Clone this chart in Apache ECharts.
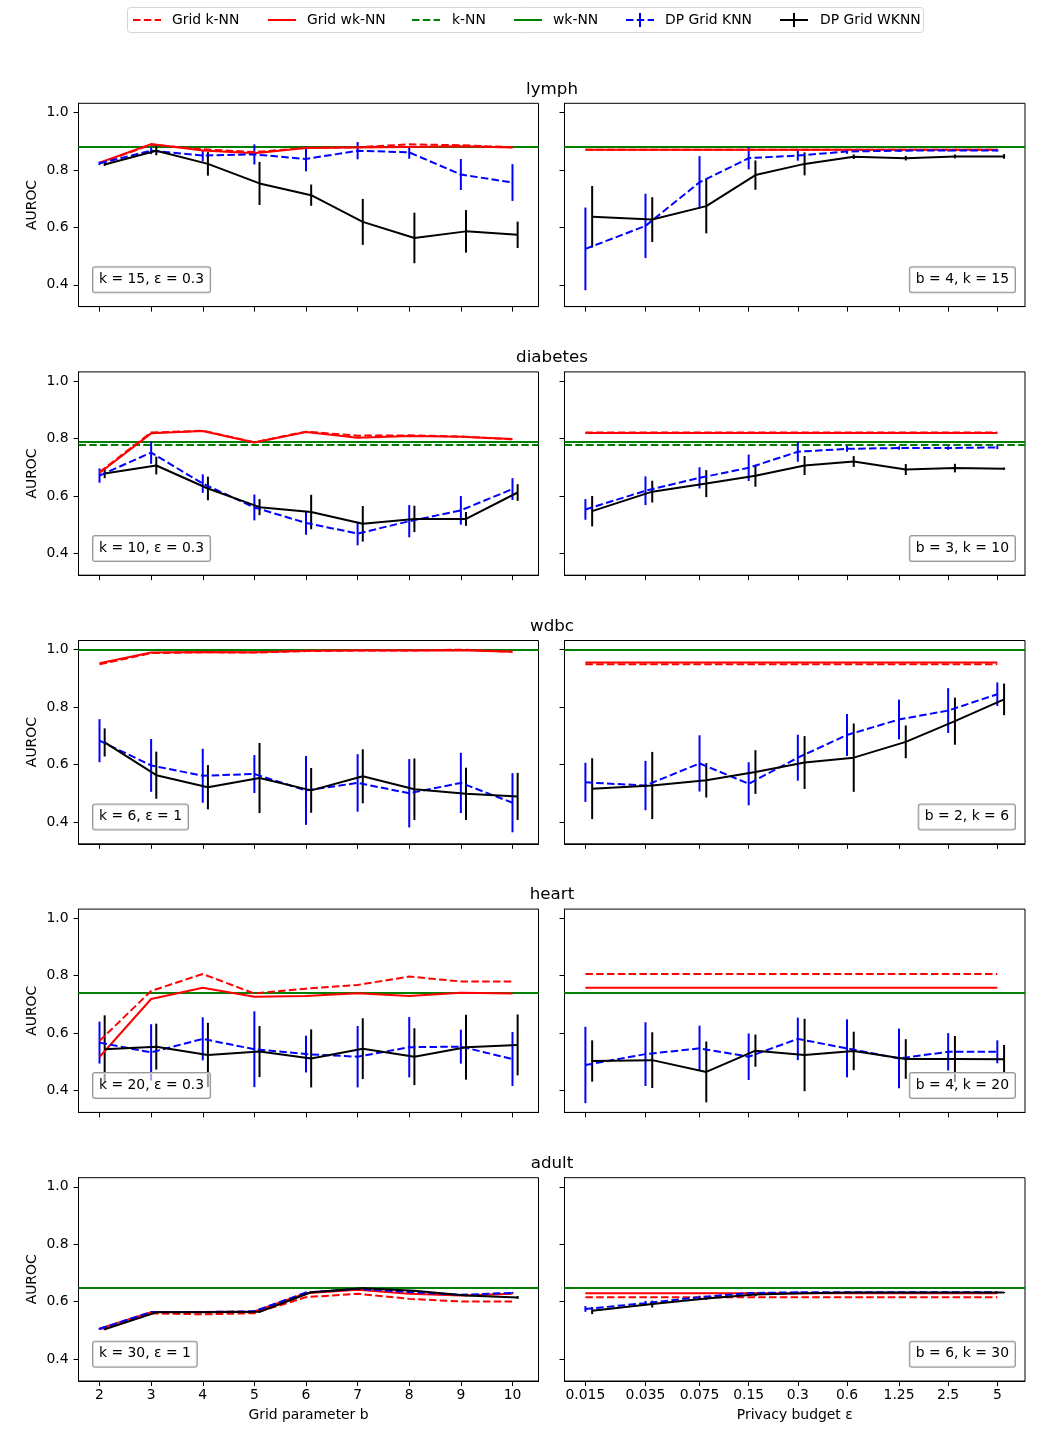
<!DOCTYPE html>
<html>
<head>
<meta charset="utf-8">
<script src="https://cdn.jsdelivr.net/npm/echarts@6/dist/echarts.min.js"></script>
<style>
html, body { margin: 0; padding: 0; background: #fff; }
#chart { width: 1050px; height: 1449px; }
</style>
</head>
<body>
<div id="chart"></div>
<script>
var chart = echarts.init(document.getElementById('chart'));

const datasets = ['lymph', 'diabetes', 'wdbc', 'heart', 'adult'];
const gridB = [2, 3, 4, 5, 6, 7, 8, 9, 10];
const budgets = [0.015, 0.035, 0.075, 0.15, 0.3, 0.6, 1.25, 2.5, 5];
const yTicks = [0.4, 0.6, 0.8, 1.0];

// left column: AUROC against grid parameter b (one row per dataset)
const gridKnnVsB = [
    [0.823, 0.888, 0.872, 0.862, 0.877, 0.879, 0.889, 0.886, 0.879],
    [0.683, 0.821, 0.827, 0.787, 0.824, 0.810, 0.811, 0.807, 0.797],
    [0.949, 0.988, 0.991, 0.990, 0.995, 0.997, 0.997, 1.000, 0.993],
    [0.573, 0.747, 0.806, 0.738, 0.755, 0.768, 0.797, 0.780, 0.780],
    [0.504, 0.560, 0.556, 0.560, 0.616, 0.628, 0.610, 0.601, 0.601]
];
const gridWknnVsB = [
    [0.825, 0.890, 0.868, 0.858, 0.876, 0.878, 0.880, 0.882, 0.878],
    [0.680, 0.818, 0.826, 0.786, 0.823, 0.803, 0.809, 0.806, 0.798],
    [0.953, 0.990, 0.992, 0.991, 0.996, 0.997, 0.997, 0.998, 0.993],
    [0.517, 0.719, 0.758, 0.727, 0.729, 0.739, 0.729, 0.741, 0.738],
    [0.506, 0.564, 0.564, 0.566, 0.630, 0.642, 0.628, 0.622, 0.628]
];
const dpKnnVsB = [
    [0.823, 0.867, 0.850, 0.854, 0.838, 0.867, 0.861, 0.784, 0.756],
    [0.671, 0.751, 0.643, 0.560, 0.506, 0.469, 0.512, 0.550, 0.624],
    [0.683, 0.597, 0.561, 0.567, 0.510, 0.536, 0.500, 0.536, 0.467],
    [0.567, 0.533, 0.580, 0.544, 0.527, 0.518, 0.551, 0.553, 0.510],
    [0.506, 0.564, 0.564, 0.567, 0.632, 0.645, 0.634, 0.624, 0.631]
];
const dpKnnErrVsB = [
    [0.006, 0.012, 0.020, 0.035, 0.043, 0.030, 0.022, 0.054, 0.064],
    [0.025, 0.039, 0.032, 0.045, 0.041, 0.041, 0.056, 0.050, 0.038],
    [0.075, 0.092, 0.094, 0.066, 0.120, 0.100, 0.119, 0.105, 0.103],
    [0.073, 0.098, 0.075, 0.132, 0.064, 0.107, 0.105, 0.059, 0.094],
    [0.003, 0.003, 0.003, 0.003, 0.003, 0.003, 0.003, 0.003, 0.003]
];
const dpWknnVsB = [
    [0.819, 0.867, 0.821, 0.753, 0.712, 0.619, 0.563, 0.586, 0.574],
    [0.678, 0.706, 0.626, 0.561, 0.544, 0.503, 0.520, 0.520, 0.612],
    [0.677, 0.563, 0.521, 0.553, 0.510, 0.559, 0.514, 0.498, 0.489],
    [0.544, 0.553, 0.524, 0.536, 0.512, 0.546, 0.518, 0.551, 0.559],
    [0.504, 0.563, 0.563, 0.565, 0.633, 0.647, 0.638, 0.622, 0.615]
];
const dpWknnErrVsB = [
    [0.005, 0.016, 0.041, 0.075, 0.037, 0.080, 0.088, 0.074, 0.046],
    [0.016, 0.031, 0.041, 0.028, 0.060, 0.062, 0.046, 0.024, 0.029],
    [0.049, 0.082, 0.077, 0.122, 0.078, 0.094, 0.107, 0.091, 0.082],
    [0.118, 0.080, 0.112, 0.089, 0.101, 0.106, 0.099, 0.113, 0.106],
    [0.003, 0.003, 0.003, 0.003, 0.003, 0.003, 0.003, 0.003, 0.005]
];

// non-private baselines (horizontal lines in both columns)
const knnBaseline = [0.882, 0.778, 0.996, 0.745, 0.647];
const wknnBaseline = [0.879, 0.792, 0.996, 0.745, 0.647];

// right column: AUROC against privacy budget (fixed b, k)
const gridKnnFixed = [0.870, 0.821, 0.949, 0.806, 0.616];
const gridWknnFixed = [0.870, 0.819, 0.955, 0.758, 0.630];
const dpKnnVsEps = [
    [0.525, 0.605, 0.757, 0.841, 0.850, 0.864, 0.867, 0.868, 0.868],
    [0.553, 0.618, 0.663, 0.698, 0.754, 0.764, 0.767, 0.767, 0.769],
    [0.538, 0.527, 0.604, 0.533, 0.624, 0.703, 0.757, 0.788, 0.845],
    [0.489, 0.527, 0.547, 0.518, 0.580, 0.547, 0.512, 0.535, 0.535],
    [0.575, 0.595, 0.616, 0.630, 0.633, 0.633, 0.633, 0.633, 0.633]
];
const dpKnnErrVsEps = [
    [0.144, 0.112, 0.091, 0.039, 0.018, 0.008, 0.004, 0.004, 0.004],
    [0.036, 0.050, 0.037, 0.046, 0.035, 0.010, 0.006, 0.006, 0.006],
    [0.068, 0.086, 0.098, 0.075, 0.080, 0.073, 0.069, 0.078, 0.041],
    [0.133, 0.111, 0.079, 0.081, 0.074, 0.101, 0.104, 0.065, 0.040],
    [0.010, 0.008, 0.005, 0.004, 0.003, 0.002, 0.002, 0.002, 0.002]
];
const dpWknnVsEps = [
    [0.637, 0.627, 0.674, 0.782, 0.821, 0.846, 0.841, 0.847, 0.847],
    [0.547, 0.615, 0.643, 0.670, 0.706, 0.720, 0.692, 0.697, 0.695],
    [0.516, 0.527, 0.545, 0.574, 0.607, 0.624, 0.679, 0.751, 0.827],
    [0.503, 0.506, 0.465, 0.539, 0.524, 0.538, 0.510, 0.510, 0.509],
    [0.569, 0.592, 0.611, 0.625, 0.630, 0.632, 0.632, 0.632, 0.632]
];
const dpWknnErrVsEps = [
    [0.107, 0.078, 0.095, 0.051, 0.040, 0.008, 0.008, 0.007, 0.008],
    [0.053, 0.038, 0.047, 0.038, 0.033, 0.019, 0.019, 0.015, 0.004],
    [0.106, 0.117, 0.060, 0.076, 0.092, 0.119, 0.057, 0.082, 0.055],
    [0.072, 0.097, 0.106, 0.056, 0.126, 0.067, 0.069, 0.080, 0.050],
    [0.012, 0.012, 0.005, 0.006, 0.003, 0.002, 0.002, 0.002, 0.002]
];

const leftNotes = ['k = 15, ε = 0.3', 'k = 10, ε = 0.3', 'k = 6, ε = 1', 'k = 20, ε = 0.3', 'k = 30, ε = 1'];
const rightNotes = ['b = 4, k = 15', 'b = 3, k = 10', 'b = 2, k = 6', 'b = 4, k = 20', 'b = 6, k = 30'];

const RED = '#ff0000', GREEN = '#008000', BLUE = '#0000ff', BLACK = '#000000';
const DASH = [7.5, 3.3];
const FONT = '"DejaVu Sans", sans-serif';
const TOP0 = 103.3, STEP = 268.6, PH = 203.3;
const LX = 78.5, LW = 460, RX = 564.5, RW = 460.5;
// WKNN errorbars are nudged right so they don't sit on the KNN ones
const SHIFT_B = 0.1, SHIFT_EPS = 1.1;

function lineSeries(name, ax, xs, ys, color, dashed) {
    return {
        name: name, type: 'line', xAxisIndex: ax, yAxisIndex: ax,
        symbol: 'none', silent: true,
        lineStyle: { color: color, width: 2, type: dashed ? DASH : 'solid' },
        data: xs.map(function (x, i) { return [x, ys[i]]; })
    };
}

function errSeries(ax, xs, ys, errs, color) {
    return {
        type: 'custom', xAxisIndex: ax, yAxisIndex: ax, silent: true,
        encode: { x: 0, y: [1, 2] },
        data: xs.map(function (x, i) { return [x, ys[i] - errs[i], ys[i] + errs[i]]; }),
        renderItem: function (params, api) {
            var lo = api.coord([api.value(0), api.value(1)]);
            var hi = api.coord([api.value(0), api.value(2)]);
            return {
                type: 'line',
                shape: { x1: lo[0], y1: lo[1], x2: hi[0], y2: hi[1] },
                style: { stroke: color, lineWidth: 2 }
            };
        }
    };
}

var grids = [], xAxes = [], yAxes = [], series = [], graphics = [];

datasets.forEach(function (ds, r) {
    var top = TOP0 + r * STEP;
    var last = r === datasets.length - 1;
    [0, 1].forEach(function (c) {
        var ax = r * 2 + c;
        grids.push({
            left: c === 0 ? LX : RX, top: top, width: c === 0 ? LW : RW, height: PH,
            show: true, borderColor: '#000', borderWidth: 1, backgroundColor: '#fff',
            outerBoundsMode: 'none', containLabel: false
        });
        var ticks = c === 0 ? gridB : budgets;
        var xa = {
            gridIndex: ax,
            type: c === 0 ? 'value' : 'log',
            min: c === 0 ? 1.593 : 0.01117,
            max: c === 0 ? 10.504 : 7.388,
            axisLine: { show: true, onZero: false, lineStyle: { color: '#000', width: 1 } },
            axisTick: { show: true, length: 5, lineStyle: { color: '#000' }, customValues: ticks },
            axisLabel: {
                show: last, customValues: ticks, margin: 7,
                color: '#000', fontFamily: FONT, fontSize: 13.9,
                formatter: function (v) { return String(+(+v).toPrecision(3)); }
            },
            splitLine: { show: false }
        };
        if (c === 1) xa.logBase = 10;
        if (last) {
            xa.name = c === 0 ? 'Grid parameter b' : 'Privacy budget ε';
            xa.nameLocation = 'middle';
            xa.nameGap = 27;
            xa.nameTextStyle = { color: '#000', fontFamily: FONT, fontSize: 13.9 };
        }
        xAxes.push(xa);
        yAxes.push({
            gridIndex: ax, type: 'value', min: 0.324, max: 1.032,
            name: c === 0 ? 'AUROC' : '',
            nameLocation: 'middle', nameGap: 39,
            nameTextStyle: { color: '#000', fontFamily: FONT, fontSize: 13.9 },
            axisLine: { show: true, lineStyle: { color: '#000', width: 1 } },
            axisTick: { show: true, length: 5, lineStyle: { color: '#000' }, customValues: yTicks },
            axisLabel: {
                show: c === 0, customValues: yTicks, margin: 10,
                color: '#000', fontFamily: FONT, fontSize: 13.9,
                formatter: function (v) { return (+v).toFixed(1); }
            },
            splitLine: { show: false }
        });

        var xs = c === 0 ? gridB : budgets;
        var xsShift = xs.map(function (x) { return c === 0 ? x + SHIFT_B : x * SHIFT_EPS; });
        var gk = c === 0 ? gridKnnVsB[r] : budgets.map(function () { return gridKnnFixed[r]; });
        var gw = c === 0 ? gridWknnVsB[r] : budgets.map(function () { return gridWknnFixed[r]; });
        var dk = c === 0 ? dpKnnVsB[r] : dpKnnVsEps[r];
        var dke = c === 0 ? dpKnnErrVsB[r] : dpKnnErrVsEps[r];
        var dw = c === 0 ? dpWknnVsB[r] : dpWknnVsEps[r];
        var dwe = c === 0 ? dpWknnErrVsB[r] : dpWknnErrVsEps[r];

        series.push(lineSeries('Grid k-NN', ax, xs, gk, RED, true));
        var s = lineSeries('Grid wk-NN', ax, xs, gw, RED, false);
        s.markLine = {
            silent: true, symbol: ['none', 'none'], label: { show: false }, z: 2,
            lineStyle: { color: GREEN, width: 2 },
            emphasis: { disabled: true },
            data: [
                { yAxis: knnBaseline[r], lineStyle: { color: GREEN, width: 2, type: DASH } },
                { yAxis: wknnBaseline[r], lineStyle: { color: GREEN, width: 2, type: 'solid' } }
            ]
        };
        series.push(s);
        series.push(errSeries(ax, xs, dk, dke, BLUE));
        series.push(lineSeries('DP Grid KNN', ax, xs, dk, BLUE, true));
        series.push(errSeries(ax, xsShift, dw, dwe, BLACK));
        series.push(lineSeries('DP Grid WKNN', ax, xsShift, dw, BLACK, false));

        // parameter note box inside each panel
        graphics.push({
            type: 'text', z: 100,
            x: c === 0 ? LX + 14.5 : RX + RW - 10,
            y: top + PH - 14.3,
            style: {
                text: c === 0 ? leftNotes[r] : rightNotes[r],
                font: '13.9px ' + FONT, fill: '#000',
                align: c === 0 ? 'left' : 'right', verticalAlign: 'bottom',
                lineHeight: 16, padding: [4, 6, 5, 6],
                backgroundColor: 'rgba(255,255,255,0.6)',
                borderColor: '#999', borderWidth: 1, borderRadius: 2
            }
        });
    });
    // dataset title centred over the row
    graphics.push({
        type: 'text', z: 100, x: 552, y: top - 14,
        style: { text: ds, font: '16.7px ' + FONT, fill: '#000', align: 'center', verticalAlign: 'middle' }
    });
});

// legend drawn by hand so the handles match the line/errorbar styles
const legendItems = [
    { name: 'Grid k-NN', color: RED, dashed: true, bar: false, hx: 133, tx: 172 },
    { name: 'Grid wk-NN', color: RED, dashed: false, bar: false, hx: 268, tx: 307 },
    { name: 'k-NN', color: GREEN, dashed: true, bar: false, hx: 412, tx: 452 },
    { name: 'wk-NN', color: GREEN, dashed: false, bar: false, hx: 514, tx: 553 },
    { name: 'DP Grid KNN', color: BLUE, dashed: true, bar: true, hx: 626, tx: 665 },
    { name: 'DP Grid WKNN', color: BLACK, dashed: false, bar: true, hx: 780, tx: 820 }
];
graphics.push({
    type: 'rect', z: 100,
    shape: { x: 127.5, y: 7.5, width: 796, height: 25, r: 3 },
    style: { fill: 'rgba(255,255,255,0.8)', stroke: '#d5d5d5', lineWidth: 1 }
});
legendItems.forEach(function (it) {
    graphics.push({
        type: 'line', z: 101,
        shape: { x1: it.hx, y1: 20, x2: it.hx + 28, y2: 20 },
        style: { stroke: it.color, lineWidth: 2, lineDash: it.dashed ? DASH : null }
    });
    if (it.bar) {
        graphics.push({
            type: 'line', z: 101,
            shape: { x1: it.hx + 14, y1: 13, x2: it.hx + 14, y2: 27 },
            style: { stroke: it.color, lineWidth: 2 }
        });
    }
    graphics.push({
        type: 'text', z: 101, x: it.tx, y: 20,
        style: { text: it.name, font: '13.9px ' + FONT, fill: '#000', align: 'left', verticalAlign: 'middle' }
    });
});

var option = {
    animation: false,
    backgroundColor: '#fff',
    textStyle: { fontFamily: FONT },
    grid: grids,
    xAxis: xAxes,
    yAxis: yAxes,
    series: series,
    graphic: graphics
};
chart.setOption(option);
</script>
</body>
</html>
